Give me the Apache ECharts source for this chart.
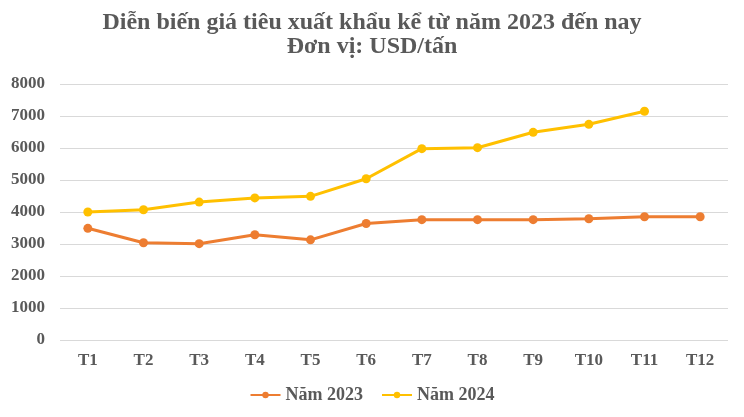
<!DOCTYPE html>
<html>
  <head>
    <meta charset="utf-8" />
    <title>Diễn biến giá tiêu</title>
    <script src="https://cdn.jsdelivr.net/npm/echarts@6/dist/echarts.min.js"></script>
    <style>
      * {
        margin: 0;
        padding: 0;
        box-sizing: border-box;
      }
    </style>
  </head>
  <body>
    <div id="main" style="width: 744px; height: 417px"></div>
    <script type="text/javascript">
      var myChart = echarts.init(document.getElementById("main"));

      const months = ["T1", "T2", "T3", "T4", "T5", "T6", "T7", "T8", "T9", "T10", "T11", "T12"];
      const price2023 = [3490, 3040, 3010, 3290, 3130, 3640, 3760, 3760, 3760, 3790, 3850, 3850];
      const price2024 = [4000, 4070, 4310, 4440, 4490, 5040, 5980, 6010, 6490, 6740, 7150, null];

      const textColor = "#595959";
      const font = "'Liberation Serif', 'Times New Roman', serif";

      var option = {
        backgroundColor: "#fff",
        title: {
          text: "Diễn biến giá tiêu xuất khẩu kể từ năm 2023 đến nay\nĐơn vị: USD/tấn",
          left: "center",
          top: 6,
          textStyle: {
            fontFamily: font,
            fontSize: 24,
            fontWeight: "bold",
            color: textColor,
            lineHeight: 24,
          },
        },
        legend: {
          bottom: 8,
          left: "center",
          itemWidth: 30,
          itemHeight: 8,
          itemGap: 18,
          textStyle: {
            fontFamily: font,
            fontSize: 18,
            fontWeight: "bold",
            color: textColor,
          },
          data: ["Năm 2023", "Năm 2024"],
        },
        grid: {
          left: 60,
          right: 16,
          top: 84,
          bottom: 77,
        },
        xAxis: {
          type: "category",
          data: months,
          axisLine: { show: false },
          axisTick: { show: false },
          axisLabel: {
            margin: 12,
            fontFamily: font,
            fontSize: 17,
            fontWeight: "bold",
            color: textColor,
          },
        },
        yAxis: {
          type: "value",
          min: 0,
          max: 8000,
          interval: 1000,
          axisLine: { show: false },
          axisTick: { show: false },
          splitLine: { lineStyle: { color: "#d9d9d9", width: 1 } },
          axisLabel: {
            margin: 15,
            fontFamily: font,
            fontSize: 17,
            fontWeight: "bold",
            color: textColor,
            formatter: (v) => String(v),
          },
        },
        series: [
          {
            name: "Năm 2023",
            type: "line",
            data: price2023,
            symbol: "circle",
            symbolSize: 9,
            lineStyle: { color: "#ED7D31", width: 3 },
            itemStyle: { color: "#ED7D31" },
          },
          {
            name: "Năm 2024",
            type: "line",
            data: price2024,
            symbol: "circle",
            symbolSize: 9,
            lineStyle: { color: "#FFC000", width: 3 },
            itemStyle: { color: "#FFC000" },
          },
        ],
      };

      myChart.setOption(option);
    </script>
  </body>
</html>
